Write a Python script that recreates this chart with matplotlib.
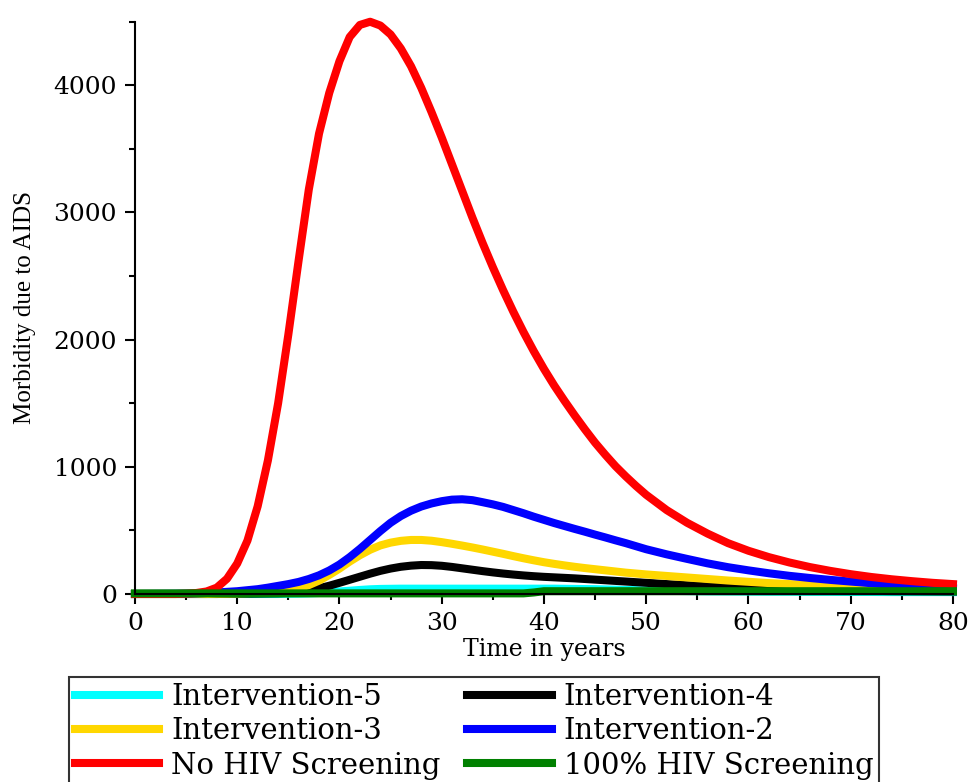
import numpy as np
import matplotlib
matplotlib.use("Agg")
import matplotlib.pyplot as plt
from matplotlib.ticker import MultipleLocator
from matplotlib.font_manager import FontProperties

# time grid (years)
years = [0, 4, 5, 6, 7, 8, 9, 10, 11, 12, 13, 14, 15, 16, 17, 18, 19, 20,
         21, 22, 23, 24, 25, 26, 27, 28, 29, 30, 31, 32, 33, 34, 35, 36, 37,
         38, 39, 40, 41, 42, 43, 44, 45, 46, 47, 48, 49, 50, 52, 54, 56, 58,
         60, 62, 64, 66, 68, 70, 72, 74, 76, 78, 80]

no_screening = [0, 0, 3, 8, 20, 50, 120, 240, 420, 690, 1050, 1500, 2040, 2620,
                3180, 3620, 3940, 4190, 4380, 4475, 4500, 4470, 4400, 4290, 4150,
                3980, 3790, 3590, 3380, 3170, 2960, 2760, 2570, 2390, 2220, 2060,
                1910, 1770, 1640, 1520, 1405, 1295, 1190, 1095, 1005, 925, 850,
                780, 660, 560, 475, 400, 340, 290, 248, 212, 182, 156, 134, 116,
                101, 88, 78]

interv2 = [0, 2, 3, 5, 8, 12, 17, 22, 30, 38, 50, 64, 78, 95, 118, 147, 185, 232,
           290, 355, 425, 495, 560, 613, 655, 688, 712, 730, 742, 745, 738, 722,
           705, 685, 660, 635, 608, 583, 558, 535, 512, 490, 467, 445, 422, 400,
           376, 352, 312, 276, 241, 211, 186, 163, 143, 126, 111, 98, 85, 73, 62,
           53, 45]

interv3 = [0, 0, 0, 0, 0, 2, 3, 5, 7, 10, 14, 20, 30, 45, 70, 105, 150, 200,
           255, 305, 348, 382, 404, 418, 425, 425, 419, 408, 395, 381, 366, 350,
           333, 316, 298, 281, 265, 250, 237, 225, 214, 204, 195, 186, 177, 168,
           161, 154, 142, 130, 118, 106, 96, 86, 78, 71, 65, 60, 56, 52, 48, 45,
           42]

interv4 = [0, 0, 0, 0, 0, 0, 1, 2, 3, 4, 5, 6, 8, 15, 28, 45, 65, 88, 112, 136,
           160, 182, 200, 214, 223, 228, 227, 222, 213, 202, 191, 180, 170, 161,
           153, 146, 140, 135, 131, 127, 123, 118, 113, 108, 103, 98, 93, 88, 78,
           69, 60, 52, 45, 40, 36, 32, 29, 27, 25, 23, 22, 21, 20]

interv5 = [0, 0, 0, 0, 0, 0, 0, 0, 0, 0, 0, 0, 2, 3, 5, 8, 14, 20, 26, 32, 37,
           40, 41, 42, 42, 42, 42, 42, 42, 42, 42, 42, 42, 42, 42, 42, 42, 42,
           42, 41, 40, 39, 38, 36, 34, 32, 30, 28, 25, 23, 21, 20, 19, 18, 18,
           17, 17, 16, 16, 15, 15, 15, 15]

full_screening = [5, 5, 5, 5, 5, 5, 5, 5, 5, 5, 5, 5, 5, 5, 5, 5, 5, 5, 5, 5, 5,
                  5, 5, 5, 5, 5, 5, 5, 5, 5, 5, 5, 5, 5, 5, 5, 12, 22, 22, 22,
                  22, 22, 22, 22, 22, 22, 22, 22, 22, 22, 22, 22, 22, 22, 22, 22,
                  22, 22, 22, 22, 22, 22, 22]

fig = plt.figure(figsize=(9.71, 7.82), dpi=100)
ax = fig.add_axes([0.1390, 0.2404, 0.8424, 0.7318])

lw = 5.8
l5, = ax.plot(years, interv5, color="#00FFFF", lw=lw, clip_on=False)
l4, = ax.plot(years, interv4, color="black", lw=lw, clip_on=False)
l3, = ax.plot(years, interv3, color="#FFD700", lw=lw, clip_on=False)
l2, = ax.plot(years, interv2, color="#0000FF", lw=lw, clip_on=False)
l0, = ax.plot(years, no_screening, color="#FF0000", lw=lw, clip_on=False)
l100, = ax.plot(years, full_screening, color="#008000", lw=lw, clip_on=False)

ax.set_xlim(0, 80)
ax.set_ylim(0, 4500)
ax.xaxis.set_major_locator(MultipleLocator(10))
ax.xaxis.set_minor_locator(MultipleLocator(5))
ax.yaxis.set_major_locator(MultipleLocator(1000))
ax.yaxis.set_minor_locator(MultipleLocator(500))
ax.set_yticks([0, 1000, 2000, 3000, 4000])

for s in ["top", "right"]:
    ax.spines[s].set_visible(False)
for s in ["left", "bottom"]:
    ax.spines[s].set_linewidth(1.5)

ax.tick_params(which="major", direction="out", length=7, width=1.5,
               labelsize=18, pad=6)
ax.tick_params(which="minor", direction="out", length=4.5, width=1.5)
for lab in ax.get_xticklabels() + ax.get_yticklabels():
    lab.set_family("DejaVu Serif")

fig.text(0.561, 0.1688, "Time in years", family="DejaVu Serif", fontsize=17,
         ha="center", va="center")
fig.text(0.0257, 0.607, "Morbidity due to AIDS", family="Liberation Serif",
         fontsize=18, rotation=90, ha="center", va="center")

handles = [l5, l3, l0, l4, l2, l100]
labels = ["Intervention-5", "Intervention-3", "No HIV Screening",
          "Intervention-4", "Intervention-2", "100% HIV Screening"]
leg_font = FontProperties(family="DejaVu Serif", size=21)
leg = fig.legend(handles, labels, loc="upper left",
                 bbox_to_anchor=(69 / 971, 1 - 677 / 782), ncol=2,
                 prop=leg_font, frameon=True, fancybox=False,
                 edgecolor="black", handlelength=2.9, handletextpad=0.41,
                 columnspacing=0.9, labelspacing=0.22, borderpad=0.2,
                 borderaxespad=0)
leg.get_frame().set_linewidth(1.5)

fig.savefig("out.png", dpi=100)
